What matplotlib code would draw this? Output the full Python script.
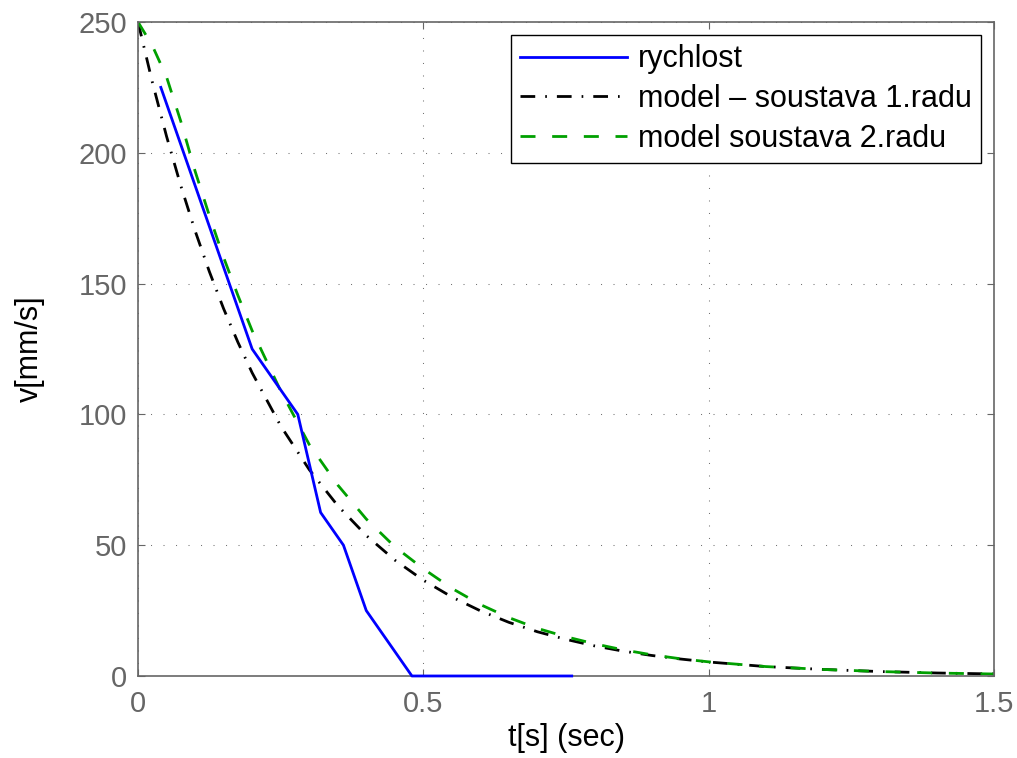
import numpy as np
import matplotlib.pyplot as plt

plt.rcParams['font.family'] = ['Liberation Sans', 'DejaVu Sans']

# measured speed (sampled every 0.04 s)
t_meas = [0.04, 0.08, 0.12, 0.16, 0.20, 0.24, 0.28, 0.32, 0.36, 0.40,
          0.44, 0.48, 0.52, 0.56, 0.60, 0.64, 0.68, 0.72, 0.76]
v_meas = [225, 200, 175, 150, 125, 112.5, 100, 62.5, 50, 25,
          12.5, 0, 0, 0, 0, 0, 0, 0, 0]

# model curves
t_model = [0, 0.025, 0.05, 0.075, 0.10, 0.125, 0.15, 0.175, 0.20, 0.25, 0.30,
           0.35, 0.40, 0.45, 0.50, 0.55, 0.60, 0.65, 0.70, 0.75, 0.80,
           0.85, 0.90, 0.95, 1.00, 1.10, 1.20, 1.30, 1.40, 1.50]
v_model1 = [250, 227.1, 206.3, 187.4, 170.2, 154.6, 140.4, 127.6, 115.9, 95.6, 78.9,
            65.1, 53.7, 44.3, 36.6, 30.2, 24.9, 20.5, 16.9, 14.0, 11.5,
            9.5, 7.85, 6.5, 5.35, 3.6, 2.5, 1.7, 1.14, 0.78]
v_model2 = [250, 241, 229, 212, 193, 176, 160, 145.5, 132, 109, 88.5,
            73, 60, 49.4, 41, 33.5, 27.3, 22.3, 18.2, 15.0, 12.3,
            10.0, 8.1, 6.6, 5.4, 3.6, 2.5, 1.7, 1.12, 0.76]

fig = plt.figure(figsize=(10.17, 7.58), dpi=100)
ax = fig.add_axes([0.1357, 0.1082, 0.9774 - 0.1357, 0.971 - 0.1082])

ax.plot(t_meas, v_meas, color='#0000ff', lw=2, label='rychlost',
        clip_on=False, zorder=4)
ax.plot(t_model, v_model1, color='black', lw=2, linestyle=(0, (5.3, 3.6, 0.6, 3.6)),
        label='model \u2013 soustava 1.radu')
ax.plot(t_model, v_model2, color='#00a000', lw=2, linestyle=(0, (5.4, 6.0)),
        label='model soustava 2.radu')

ax.set_xlim(0, 1.5)
ax.set_ylim(0, 250)
ax.set_xticks([0, 0.5, 1, 1.5])
ax.set_xticklabels(['0', '0.5', '1', '1.5'])
ax.set_yticks([0, 50, 100, 150, 200, 250])

ax.grid(True, color='0.45', linestyle=(0, (1, 11)), lw=0.75)
ax.tick_params(direction='in', length=5, colors='0.4', labelsize=21,
               top=True, right=True, labelcolor='0.4')
ax.tick_params(axis='x', pad=10)
ax.tick_params(axis='y', pad=8)
for s in ax.spines.values():
    s.set_color('0.4')
    s.set_linewidth(1.2)

ax.set_xlabel('t[s] (sec)', fontsize=22, labelpad=4)
ax.set_ylabel('v[mm/s]', fontsize=22, labelpad=24)

leg = ax.legend(loc='upper right', fontsize=22, handlelength=3.5, labelspacing=0.32,
                borderaxespad=0.43, fancybox=False, framealpha=1,
                handletextpad=0.35, borderpad=0.3)
leg.get_frame().set_edgecolor('black')
leg.get_frame().set_linewidth(1.0)

plt.savefig('out.png', dpi=100)
